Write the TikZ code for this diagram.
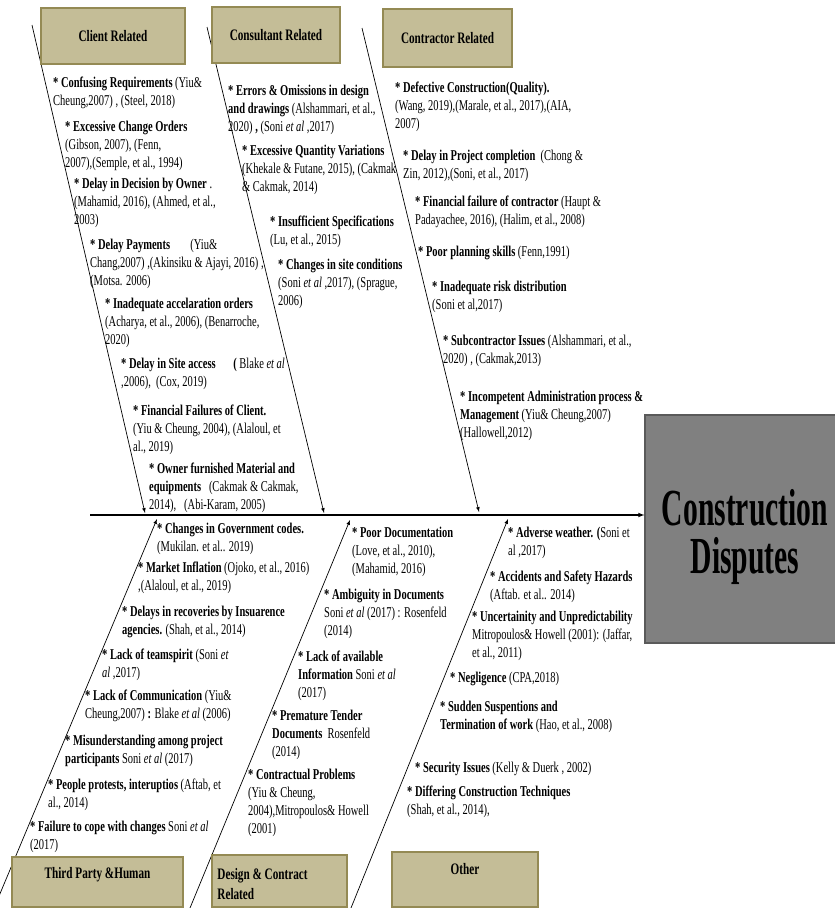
\documentclass[tikz,border=0pt]{standalone}
\usepackage{fontspec}
\setmainfont{Liberation Serif}[FakeStretch=0.70]
\newfontfamily\headfont{Liberation Serif}[FakeStretch=0.57]
\usepackage{tikz}
\usetikzlibrary{arrows,positioning}
\definecolor{boxfill}{HTML}{C4BD97}
\definecolor{boxline}{HTML}{948A54}
\definecolor{headfill}{HTML}{808080}
\definecolor{headline}{HTML}{5A5A5A}

\begin{document}
\begin{tikzpicture}[x=1pt,y=-1pt]
\tikzset{cause/.style={anchor=north west, inner sep=0pt, yshift=-2pt, align=left, font=\fontsize{15}{18}\selectfont, execute at begin node=\strut}}
\tikzset{catbox/.style={draw=boxline, fill=boxfill, line width=1.5pt, inner sep=0pt, font=\fontsize{16}{19}\selectfont\bfseries}}
\tikzset{cattitle/.style={inner sep=0pt, align=left, font=\fontsize{16}{20}\selectfont\bfseries, execute at begin node=\strut}}
\tikzset{headbox/.style={draw=headline, fill=headfill, line width=1.2pt}}
\tikzset{headtext/.style={inner sep=0pt, align=center, font=\headfont\bfseries\fontsize{52}{50}\selectfont}}
\tikzset{bone/.style={line width=0.7pt, -latex}}
\clip (0,0) rectangle (835,908);

\node[headbox, minimum width=200pt, minimum height=228pt] (head) at (745,529) {};
\node[headtext] (headtitle) at ([yshift=-8pt]head.center) {Construction\\[-2pt]Disputes};

% spine
\coordinate (spinestart) at (90,515);
\draw[line width=1.1pt, -latex] (spinestart) -- (spinestart -| head.west);

% bones
\coordinate (clienttop) at (32,25);
\coordinate (clientend) at (145,513);
\coordinate (consulttop) at (207,27);
\coordinate (consultend) at (324,513);
\coordinate (contracttop) at (362,28);
\coordinate (contractend) at (479,512);
\coordinate (thirdbot) at (-6,908);
\coordinate (thirdend) at (157,519);
\coordinate (designbot) at (190,908);
\coordinate (designend) at (350,520);
\coordinate (otherbot) at (351,908);
\coordinate (otherend) at (508,519);
\draw[bone] (clienttop) -- (clientend);
\draw[bone] (consulttop) -- (consultend);
\draw[bone] (contracttop) -- (contractend);
\draw[bone] (thirdbot) -- (thirdend);
\draw[bone] (designbot) -- (designend);
\draw[bone] (otherbot) -- (otherend);

% category boxes
\node[catbox, minimum width=144pt, minimum height=56pt] (clientbox) at (113,36) {Client Related};
\node[catbox, minimum width=128pt, minimum height=56pt] (consultbox) at (276,35) {Consultant Related};
\node[catbox, minimum width=129pt, minimum height=58pt] (contractbox) at (447.5,38) {Contractor Related};
\node[catbox, minimum width=171pt, minimum height=50pt] (thirdbox) at (97.5,882) {};
\node[catbox, minimum width=135pt, minimum height=52pt] (designbox) at (279.5,881) {};
\node[catbox, minimum width=146pt, minimum height=55pt] (otherbox) at (465,879.5) {};
\node[cattitle, below=8pt of thirdbox.north] (thirdtitle) {Third Party \&Human};
\node[cattitle, anchor=north west, below right=14pt and 6pt of designbox.north west] (designtitle) {Design \& Contract\\Related};
\node[cattitle, below=9pt of otherbox.north] (othertitle) {Other};

% client related
\node[cause] (c1) at (53,75) {\textbf{* Confusing Requirements} (Yiu\&\\Cheung,2007) , (Steel, 2018)};
\node[cause] (c2) at (65,119) {\textbf{* Excessive Change Orders}\\(Gibson, 2007), (Fenn,\\2007),(Semple, et al., 1994)};
\node[cause] (c3) at (74,176) {\textbf{* Delay in Decision by Owner} .\\(Mahamid, 2016), (Ahmed, et al.,\\2003)};
\node[cause] (c4) at (90,237) {\textbf{* Delay Payments}\quad\ \ (Yiu\&\\Chang,2007) ,(Akinsiku \& Ajayi, 2016) ,\\(Motsa. 2006)};
\node[cause] (c5) at (105,296) {\textbf{* Inadequate accelaration orders}\\(Acharya, et al., 2006), (Benarroche,\\2020)};
\node[cause] (c6) at (121,356) {\textbf{* Delay in Site access}\quad\ \textbf{(} Blake \textit{et al}\\,2006),\ \ (Cox, 2019)};
\node[cause] (c7) at (133,403) {\textbf{* Financial Failures of Client.}\\(Yiu \& Cheung, 2004), (Alaloul, et\\al., 2019)};
\node[cause] (c8) at (149,461) {\textbf{* Owner furnished Material and}\\\textbf{equipments}\ \ \ (Cakmak \& Cakmak,\\2014),\ \ \ (Abi-Karam, 2005)};

% consultant related
\node[cause] (s1) at (228,83) {\textbf{* Errors \& Omissions in design}\\\textbf{and drawings} (Alshammari, et al.,\\2020) \textbf{,} (Soni \textit{et al} ,2017)};
\node[cause] (s2) at (242,143) {\textbf{* Excessive Quantity Variations}\\(Khekale \& Futane, 2015), (Cakmak\\\& Cakmak, 2014)};
\node[cause] (s3) at (270,214) {\textbf{* Insufficient Specifications}\\(Lu, et al., 2015)};
\node[cause] (s4) at (278,257) {\textbf{* Changes in site conditions}\\(Soni \textit{et al} ,2017), (Sprague,\\2006)};

% contractor related
\node[cause] (r1) at (395,80) {\textbf{* Defective Construction(Quality).}\\(Wang, 2019),(Marale, et al., 2017),(AIA,\\2007)};
\node[cause] (r2) at (403,148) {\textbf{* Delay in Project completion}\ \ (Chong \&\\Zin, 2012),(Soni, et al., 2017)};
\node[cause] (r3) at (415,194) {\textbf{* Financial failure of contractor} (Haupt \&\\Padayachee, 2016), (Halim, et al., 2008)};
\node[cause] (r4) at (418,242) {\textbf{* Poor planning skills} (Fenn,1991)};
\node[cause] (r5) at (432,279) {\textbf{* Inadequate risk distribution}\\(Soni et al,2017)};
\node[cause] (r6) at (443,333) {\textbf{* Subcontractor Issues} (Alshammari, et al.,\\2020) , (Cakmak,2013)};
\node[cause] (r7) at (460,389) {\textbf{* Incompetent Administration process \&}\\\textbf{Management} (Yiu\& Cheung,2007)\\(Hallowell,2012)};

% third party & human
\node[cause] (t1) at (157,521) {\textbf{* Changes in Government codes.}\\(Mukilan. et al.. 2019)};
\node[cause] (t2) at (138,560) {\textbf{* Market Inflation} (Ojoko, et al., 2016)\\,(Alaloul, et al., 2019)};
\node[cause] (t3) at (122,604) {\textbf{* Delays in recoveries by Insuarence}\\\textbf{agencies.} (Shah, et al., 2014)};
\node[cause] (t4) at (102,647) {\textbf{* Lack of teamspirit} (Soni \textit{et}\\\textit{al} ,2017)};
\node[cause] (t5) at (85,688) {\textbf{* Lack of Communication} (Yiu\&\\Cheung,2007) \textbf{:} Blake \textit{et al} (2006)};
\node[cause] (t6) at (65,733) {\textbf{* Misunderstanding among project}\\\textbf{participants} Soni \textit{et al} (2017)};
\node[cause] (t7) at (48,777) {\textbf{* People protests, interuptios} (Aftab, et\\al., 2014)};
\node[cause] (t8) at (30,819) {\textbf{* Failure to cope with changes} Soni \textit{et al}\\(2017)};

% design & contract related
\node[cause] (d1) at (352,525) {\textbf{* Poor Documentation}\\(Love, et al., 2010),\\(Mahamid, 2016)};
\node[cause] (d2) at (324,587) {\textbf{* Ambiguity in Documents}\\Soni \textit{et al} (2017) : Rosenfeld\\(2014)};
\node[cause] (d3) at (298,649) {\textbf{* Lack of available}\\\textbf{Information} Soni \textit{et al}\\(2017)};
\node[cause] (d4) at (272,708) {\textbf{* Premature Tender}\\\textbf{Documents}\ \ Rosenfeld\\(2014)};
\node[cause] (d5) at (248,767) {\textbf{* Contractual Problems}\\(Yiu \& Cheung,\\2004),Mitropoulos\& Howell\\(2001)};

% other
\node[cause] (o1) at (508,525) {\textbf{* Adverse weather. (}Soni et\\al ,2017)};
\node[cause] (o2) at (490,569) {\textbf{* Accidents and Safety Hazards}\\(Aftab. et al.. 2014)};
\node[cause] (o3) at (472,609) {\textbf{* Uncertainity and Unpredictability}\\Mitropoulos\& Howell (2001): (Jaffar,\\et al., 2011)};
\node[cause] (o4) at (450,668) {\textbf{* Negligence} (CPA,2018)};
\node[cause] (o5) at (440,699) {\textbf{* Sudden Suspentions and}\\\textbf{Termination of work} (Hao, et al., 2008)};
\node[cause] (o6) at (415,758) {\textbf{* Security Issues} (Kelly \& Duerk , 2002)};
\node[cause] (o7) at (407,784) {\textbf{* Differing Construction Techniques}\\(Shah, et al., 2014),};
\end{tikzpicture}
\end{document}
